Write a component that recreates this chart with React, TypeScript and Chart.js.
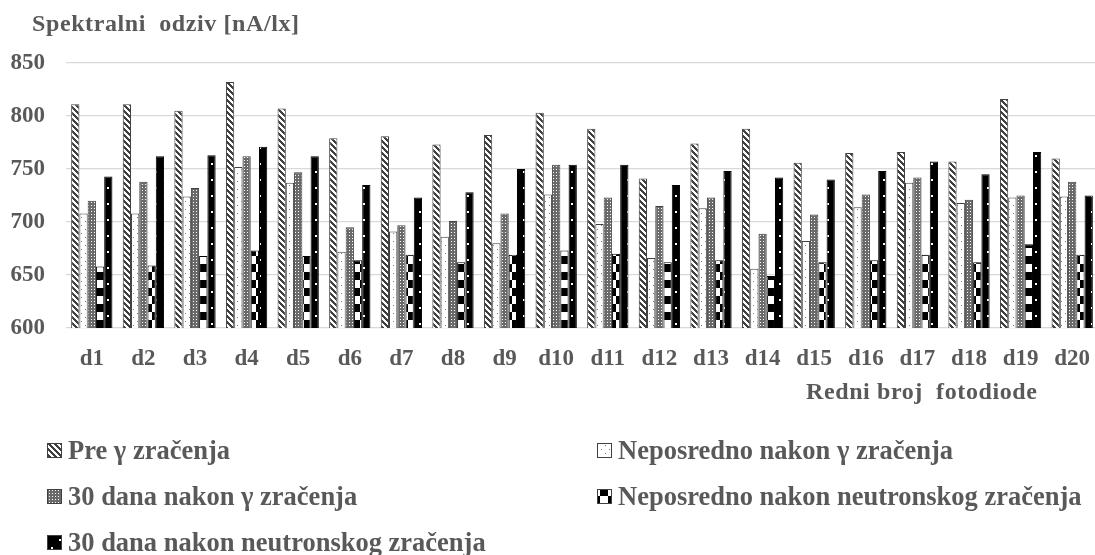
import React, { useEffect, useRef } from 'react';
import { Chart, registerables } from 'chart.js';

Chart.register(...registerables);

const categories = ['d1', 'd2', 'd3', 'd4', 'd5', 'd6', 'd7', 'd8', 'd9', 'd10', 'd11', 'd12', 'd13', 'd14', 'd15', 'd16', 'd17', 'd18', 'd19', 'd20'];

const seriesNames = [
  'Pre γ zračenja',
  'Neposredno nakon γ zračenja',
  '30 dana nakon γ zračenja',
  'Neposredno nakon neutronskog zračenja',
  '30 dana nakon neutronskog zračenja',
];

const preGamma = [811, 811, 805, 832, 807, 779, 781, 773, 782, 803, 788, 741, 774, 788, 756, 765, 766, 757, 816, 760];
const neposrednoGamma = [708, 708, 724, 752, 737, 672, 691, 686, 680, 726, 698, 666, 713, 656, 682, 714, 737, 718, 723, 724];
const dana30Gamma = [720, 738, 732, 762, 747, 695, 697, 701, 708, 754, 723, 715, 723, 689, 707, 726, 742, 721, 725, 738];
const neposrednoNeutron = [658, 659, 668, 673, 668, 664, 669, 662, 669, 673, 670, 662, 664, 649, 662, 664, 669, 662, 679, 669];
const dana30Neutron = [743, 762, 763, 771, 762, 735, 723, 728, 750, 754, 754, 735, 748, 742, 740, 748, 757, 745, 766, 725];

const yTicks = [600, 650, 700, 750, 800, 850];
const yTitle = 'Spektralni  odziv [nA/lx]';
const xTitle = 'Redni broj  fotodiode';

const TEXT = '#595959';
const FONT = '"Liberation Serif", "Times New Roman", serif';

function tile(w: number, h: number, draw: (g: CanvasRenderingContext2D) => void): CanvasPattern {
  const c = document.createElement('canvas');
  c.width = w;
  c.height = h;
  const g = c.getContext('2d')!;
  draw(g);
  return g.createPattern(c, 'repeat')!;
}

function makePatterns(): CanvasPattern[] {
  const diag = tile(6, 6, (g) => {
    g.fillStyle = '#ffffff';
    g.fillRect(0, 0, 6, 6);
    g.fillStyle = '#404040';
    for (let y = 0; y < 6; y++) for (let x = 0; x < 6; x++) {
      if ((x - y + 12) % 6 < 3) g.fillRect(x, y, 1, 1);
    }
  });
  const dots = tile(8, 8, (g) => {
    g.fillStyle = '#ffffff';
    g.fillRect(0, 0, 8, 8);
    g.fillStyle = '#7a7a7a';
    g.fillRect(1, 1, 1, 1);
    g.fillRect(5, 5, 1, 1);
  });
  const grid = tile(3, 3, (g) => {
    g.fillStyle = '#6a6a6a';
    g.fillRect(0, 0, 3, 3);
    g.fillStyle = '#ffffff';
    g.fillRect(1, 1, 1, 1);
  });
  const checker = tile(16, 16, (g) => {
    g.fillStyle = '#ffffff';
    g.fillRect(0, 0, 16, 16);
    g.fillStyle = '#000000';
    g.fillRect(0, 0, 8, 8);
    g.fillRect(8, 8, 8, 8);
  });
  const blackDots = tile(16, 16, (g) => {
    g.fillStyle = '#000000';
    g.fillRect(0, 0, 16, 16);
    g.fillStyle = '#ffffff';
    g.fillRect(3, 3, 2, 2);
    g.fillRect(11, 11, 2, 2);
  });
  return [diag, dots, grid, checker, blackDots];
}

export default function App() {
  const ref = useRef<HTMLCanvasElement>(null);

  useEffect(() => {
    const canvas = ref.current!;
    const patterns = makePatterns();
    const values = [preGamma, neposrednoGamma, dana30Gamma, neposrednoNeutron, dana30Neutron];
    const borders = ['#404040', '#404040', '#404040', '#000000', '#000000'];

    const overlay = {
      id: 'overlay',
      afterDraw(chart: any) {
        const ctx: CanvasRenderingContext2D = chart.ctx;
        ctx.save();
        ctx.fillStyle = TEXT;
        ctx.textBaseline = 'alphabetic';
        ctx.textAlign = 'left';
        ctx.font = `bold 24px ${FONT}`;
        (ctx as any).letterSpacing = '0.6px';
        ctx.fillText(yTitle, 32, 31);
        ctx.fillText(xTitle, 806, 399);
        (ctx as any).letterSpacing = '0px';
        ctx.font = `bold 26.5px ${FONT}`;
        const colX = [47, 597];
        const rowBase = [459, 505, 551];
        seriesNames.forEach((name, i) => {
          const x = colX[i % 2];
          const b = rowBase[Math.floor(i / 2)];
          ctx.fillStyle = patterns[i];
          ctx.fillRect(x, b - 16, 15, 15);
          ctx.strokeStyle = '#404040';
          ctx.lineWidth = 1;
          ctx.strokeRect(x + 0.5, b - 15.5, 14, 14);
          ctx.fillStyle = TEXT;
          ctx.fillText(name, x + 21, b);
        });
        ctx.restore();
      },
    };

    const chart = new Chart(canvas, {
      type: 'bar',
      data: {
        labels: categories,
        datasets: values.map((d, i) => ({
          label: seriesNames[i],
          data: d,
          backgroundColor: patterns[i],
          borderColor: borders[i],
          borderWidth: 1,
          categoryPercentage: 0.8,
          barPercentage: 1,
        })),
      },
      options: {
        responsive: false,
        animation: false,
        layout: { padding: { top: 63, left: 0, right: 2, bottom: 0 } },
        plugins: {
          legend: { display: false },
          title: { display: false },
          tooltip: { enabled: false },
        },
        scales: {
          x: {
            grid: { display: false },
            border: { display: false },
            ticks: { color: TEXT, font: { family: FONT, size: 23, weight: 'bold' }, padding: 9, maxRotation: 0 },
            afterFit: (s: any) => { s.height = 227; },
          },
          y: {
            min: 600,
            max: 850,
            afterBuildTicks: (s: any) => { s.ticks = yTicks.map((v) => ({ value: v })); },
            ticks: { color: TEXT, font: { family: FONT, size: 23, weight: 'bold' }, padding: 21 },
            grid: { color: '#d9d9d9', lineWidth: 1.3, drawTicks: false },
            border: { display: false },
            afterFit: (s: any) => { s.width = 66; },
          },
        },
      },
      plugins: [overlay],
    } as any);

    return () => chart.destroy();
  }, []);

  return (
    <div style={{ position: 'absolute', left: 0, top: 0, width: 1095, height: 555, overflow: 'hidden', background: '#fff' }}>
      <canvas ref={ref} width={1100} height={555} style={{ width: 1100, height: 555, display: 'block' }} />
    </div>
  );
}
